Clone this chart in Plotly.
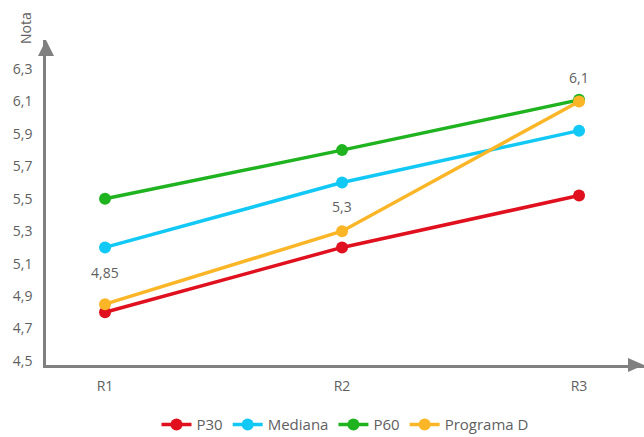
import plotly.graph_objects as go

# Rounds and series values
rondas = ["R1", "R2", "R3"]
p30 = [4.8, 5.2, 5.52]
mediana = [5.2, 5.6, 5.92]
p60 = [5.5, 5.8, 6.11]
programa_d = [4.85, 5.3, 6.1]

y_ticks = [4.5, 4.7, 4.9, 5.1, 5.3, 5.5, 5.7, 5.9, 6.1, 6.3]

series = [
    ("P30", p30, "#E0101E"),
    ("Mediana", mediana, "#12C8F5"),
    ("P60", p60, "#1FB31F"),
    ("Programa D", programa_d, "#FBB628"),
]

W, H = 644, 437
M = dict(l=46, r=0, t=40, b=72)
AX = "#808080"
TXT = "#5f5f5f"
FONT = "Open Sans"

fig = go.Figure()
for name, vals, col in series:
    fig.add_trace(go.Scatter(
        x=rondas, y=vals, name=name, mode="lines+markers",
        line=dict(color=col, width=3.5),
        marker=dict(color=col, size=12),
        cliponaxis=False,
    ))

# Value labels above the Programa D points
label_shift = [32, 25, 24]
for x, v, s in zip(rondas, programa_d, label_shift):
    fig.add_annotation(x=x, y=v, text=f"{v:g}".replace(".", ","),
                       showarrow=False, yshift=s,
                       font=dict(size=14, color=TXT, family=FONT))

fig.update_layout(
    width=W, height=H, margin=M, autosize=False,
    paper_bgcolor="white", plot_bgcolor="white",
    separators=",.",
    font=dict(family=FONT, color=TXT, size=14),
    showlegend=True,
    legend=dict(orientation="h", x=0.5, xanchor="center",
                yref="container", y=0.028, yanchor="middle",
                font=dict(size=15, color=TXT), itemwidth=30, tracegroupgap=0),
    xaxis=dict(type="category", range=[-0.249, 2.274], showgrid=False, zeroline=False,
               showline=True, linecolor=AX, linewidth=2.5, ticks="",
               ticklabelstandoff=6, tickfont=dict(size=14, color=TXT)),
    yaxis=dict(range=[4.475, 6.479], tickvals=y_ticks, tickformat=".1f",
               showgrid=False, zeroline=False, showline=True, linecolor=AX,
               linewidth=2.5, ticks="", ticklabelstandoff=8,
               tickfont=dict(size=14, color=TXT)),
)

# Axis arrowheads (paper coordinates from pixel offsets)
pw = W - M["l"] - M["r"]
ph = H - M["t"] - M["b"]
def px(dx):
    return dx / pw
def py(dy):
    return dy / ph

fig.add_shape(type="path", xref="paper", yref="paper",
              path=f"M {px(-8)} {1 - py(16)} L 0 1 L {px(8)} {1 - py(16)} Z",
              fillcolor=AX, line=dict(width=0), layer="above")
fig.add_shape(type="path", xref="paper", yref="paper",
              path=f"M {1 - px(16)} {py(7)} L 1 0 L {1 - px(16)} {py(-7)} Z",
              fillcolor=AX, line=dict(width=0), layer="above")

fig.add_annotation(text="Nota", xref="paper", yref="paper",
                   x=px(-21), y=1 + py(12), xanchor="center", yanchor="middle",
                   textangle=-90, showarrow=False,
                   font=dict(size=14, color=TXT, family=FONT))

fig.write_html("out.html")
